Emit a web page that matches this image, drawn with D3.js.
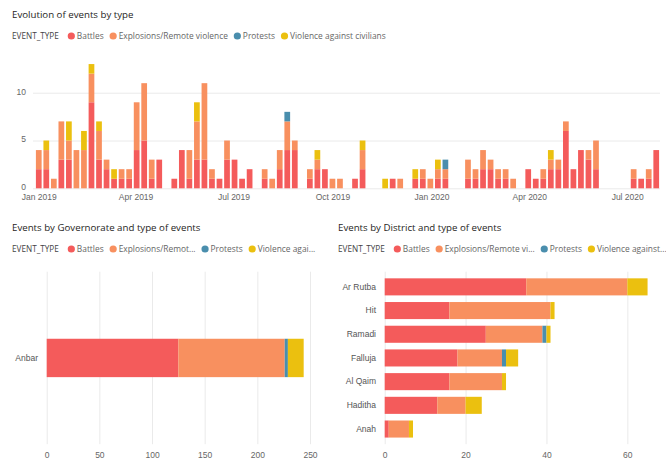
<!DOCTYPE html>
<html>
<head>
<meta charset="utf-8">
<script src="https://cdn.jsdelivr.net/npm/d3@7"></script>
<style>
body { margin: 0; background: #fff; }
svg { font-family: "Segoe UI", "Open Sans", sans-serif; }
</style>
</head>
<body>
<svg width="666" height="465"></svg>
<script>
// event types and colours
var eventTypes = ["Battles", "Explosions/Remote violence", "Protests", "Violence against civilians"];
var colors = ["#F45B5B", "#F8905F", "#4A8EAD", "#EBC00F"];

// weekly counts, first week 1 Jan 2019
var firstWeek = new Date(2019, 0, 1);
var battles = [
  2, 2, 0, 3, 3, 0, 0, 9, 3, 2,
  1, 1, 1, 4, 5, 1, 3, 0, 1, 4,
  1, 3, 3, 1, 1, 3, 3, 1, 2, 0,
  1, 0, 2, 4, 4, 0, 1, 2, 2, 0,
  0, 0, 1, 2, 0, 0, 0, 1, 0, 0,
  1, 1, 0, 1, 1, 0, 0, 1, 1, 2,
  2, 1, 1, 0, 0, 2, 1, 1, 2, 2,
  6, 2, 4, 3, 2, 0, 0, 0, 0, 1,
  1, 1, 4];
var explosions = [
  2, 2, 1, 4, 2, 4, 4, 3, 3, 1,
  0, 1, 1, 5, 6, 2, 0, 0, 0, 0,
  3, 4, 8, 1, 0, 2, 0, 0, 0, 0,
  1, 1, 2, 3, 1, 0, 1, 1, 0, 1,
  1, 0, 0, 2, 0, 0, 0, 0, 1, 0,
  0, 1, 1, 1, 1, 0, 0, 2, 1, 2,
  1, 1, 1, 1, 0, 0, 0, 1, 1, 1,
  1, 0, 0, 1, 3, 0, 0, 0, 0, 1,
  0, 1, 0];
var protests = [
  0, 0, 0, 0, 0, 0, 0, 0, 0, 0,
  0, 0, 0, 0, 0, 0, 0, 0, 0, 0,
  0, 0, 0, 0, 0, 0, 0, 0, 0, 0,
  0, 0, 0, 1, 0, 0, 0, 0, 0, 0,
  0, 0, 0, 0, 0, 0, 0, 0, 0, 0,
  0, 0, 0, 0, 1, 0, 0, 0, 0, 0,
  0, 0, 0, 0, 0, 0, 0, 0, 0, 0,
  0, 0, 0, 0, 0, 0, 0, 0, 0, 0,
  0, 0, 0];
var violence = [
  0, 1, 0, 0, 2, 0, 2, 1, 1, 0,
  1, 0, 0, 0, 0, 0, 0, 0, 0, 0,
  0, 2, 0, 0, 0, 0, 0, 0, 0, 0,
  0, 0, 0, 0, 0, 0, 0, 1, 0, 0,
  0, 0, 0, 1, 0, 0, 1, 0, 0, 0,
  1, 0, 0, 1, 0, 0, 0, 0, 0, 0,
  0, 0, 0, 0, 0, 0, 0, 0, 1, 0,
  0, 0, 0, 0, 0, 0, 0, 0, 0, 0,
  0, 0, 0];
var weekTicks = [0, 5, 10];

// governorate totals
var governorates = ["Anbar"];
var govBattles = [125];
var govExplosions = [101];
var govProtests = [3];
var govViolence = [15];
var govTicks = [0, 50, 100, 150, 200, 250];

// district totals
var districts = ["Ar Rutba", "Hit", "Ramadi", "Falluja", "Al Qaim", "Haditha", "Anah"];
var distBattles = [35, 16, 25, 18, 16, 13, 1];
var distExplosions = [25, 25, 14, 11, 13, 7, 5];
var distProtests = [0, 0, 1, 1, 0, 0, 0];
var distViolence = [5, 1, 1, 3, 1, 4, 1];
var distTicks = [0, 20, 40, 60];

var svg = d3.select("svg");
var keys = ["b", "e", "p", "v"];
var color = d3.scaleOrdinal().domain(keys).range(colors);
var stack = d3.stack().keys(keys);

function rows(names, b, e, p, v) {
  return names.map(function(n, i) { return {name: n, b: b[i], e: e[i], p: p[i], v: v[i]}; });
}

function header(x, y, title, labels) {
  svg.append("text")
    .attr("x", x).attr("y", y)
    .attr("fill", "#252423")
    .style("font-size", "9.7px")
    .text(title);
  var ly = y + 18;
  var t = svg.append("text")
    .attr("x", x).attr("y", ly + 3)
    .attr("fill", "#444")
    .style("font-size", "8.2px")
    .text("EVENT_TYPE");
  var cx = x + t.node().getComputedTextLength() + 9;
  labels.forEach(function(l, i) {
    svg.append("circle")
      .attr("cx", cx + 3.5).attr("cy", ly)
      .attr("r", 3.6)
      .attr("fill", colors[i]);
    var lt = svg.append("text")
      .attr("x", cx + 9).attr("y", ly + 3)
      .attr("fill", "#666")
      .style("font-size", "8.4px")
      .text(l);
    cx = cx + 9 + lt.node().getComputedTextLength() + 6;
  });
}

/* Evolution of events by type */
header(12, 18, "Evolution of events by type", eventTypes);

var weeks = battles.map(function(d, i) {
  return {date: d3.timeDay.offset(firstWeek, 7 * i), b: battles[i], e: explosions[i], p: protests[i], v: violence[i]};
});

var x1 = d3.scaleTime()
  .domain([d3.timeHour.offset(firstWeek, -84), d3.timeHour.offset(weeks[weeks.length - 1].date, 84)])
  .range([35, 660]);
var y1 = d3.scaleLinear().domain([0, 14]).range([188.3, 54.5]);
var barW = (x1(d3.timeDay.offset(firstWeek, 7)) - x1(firstWeek)) * 0.76;

var g1 = svg.append("g");
g1.append("g")
  .attr("transform", "translate(33,0)")
  .call(d3.axisLeft(y1).tickValues(weekTicks).tickSize(-627).tickPadding(7))
  .call(function(g) {
    g.select(".domain").remove();
    g.selectAll(".tick line").attr("stroke", "#eaeaea");
    g.selectAll(".tick text").attr("fill", "#666").attr("dy", "0.15em").style("font-size", "8.5px");
  });
g1.append("g")
  .attr("transform", "translate(0,188.3)")
  .call(d3.axisBottom(x1).ticks(d3.timeMonth.every(3)).tickFormat(d3.timeFormat("%b %Y")).tickSize(0).tickPadding(6))
  .call(function(g) {
    g.select(".domain").remove();
    g.selectAll(".tick text").attr("fill", "#666").style("font-size", "8.5px");
  });
g1.selectAll(".layer")
  .data(stack(weeks))
  .enter().append("g")
  .attr("fill", function(d) { return color(d.key); })
  .selectAll("rect")
  .data(function(d) { return d; })
  .enter().append("rect")
  .attr("x", function(d) { return x1(d.data.date) - barW / 2; })
  .attr("width", barW)
  .attr("y", function(d) { return y1(d[1]); })
  .attr("height", function(d) { return y1(d[0]) - y1(d[1]); });

/* horizontal stacked bars */
function hbars(data, tickVals, xDomain, xRange, yRange, padIn, padOut, labelX) {
  var x = d3.scaleLinear().domain(xDomain).range(xRange);
  var y = d3.scaleBand().domain(data.map(function(d) { return d.name; }))
    .range(yRange).paddingInner(padIn).paddingOuter(padOut);
  var g = svg.append("g");
  g.append("g")
    .attr("transform", "translate(0," + yRange[1] + ")")
    .call(d3.axisBottom(x).tickValues(tickVals).tickSize(-(yRange[1] - yRange[0])).tickPadding(8))
    .call(function(a) {
      a.select(".domain").remove();
      a.selectAll(".tick line").attr("stroke", "#eaeaea");
      a.selectAll(".tick text").attr("fill", "#666").style("font-size", "8.5px");
    });
  g.append("g")
    .attr("transform", "translate(" + labelX + ",0)")
    .call(d3.axisLeft(y).tickSize(0).tickPadding(0))
    .call(function(a) {
      a.select(".domain").remove();
      a.selectAll(".tick text").attr("fill", "#555").style("font-size", "8.5px");
    });
  g.selectAll(".layer")
    .data(stack(data))
    .enter().append("g")
    .attr("fill", function(d) { return color(d.key); })
    .selectAll("rect")
    .data(function(d) { return d; })
    .enter().append("rect")
    .attr("x", function(d) { return x(d[0]); })
    .attr("width", function(d) { return x(d[1]) - x(d[0]); })
    .attr("y", function(d) { return y(d.data.name); })
    .attr("height", y.bandwidth());
}

/* Events by Governorate */
header(12, 231, "Events by Governorate and type of events",
  ["Battles", "Explosions/Remot...", "Protests", "Violence agai..."]);
hbars(rows(governorates, govBattles, govExplosions, govProtests, govViolence),
  govTicks, [0, 250], [46.7, 310], [271.7, 444.2], 0.28, 1.258, 38);

/* Events by District */
header(338, 231, "Events by District and type of events",
  ["Battles", "Explosions/Remote vi...", "Protests", "Violence against..."]);
hbars(rows(districts, distBattles, distExplosions, distProtests, distViolence),
  distTicks, [0, 68], [384.7, 659.7], [271.7, 444.2], 0.28, 0.28, 376);
</script>
</body>
</html>
